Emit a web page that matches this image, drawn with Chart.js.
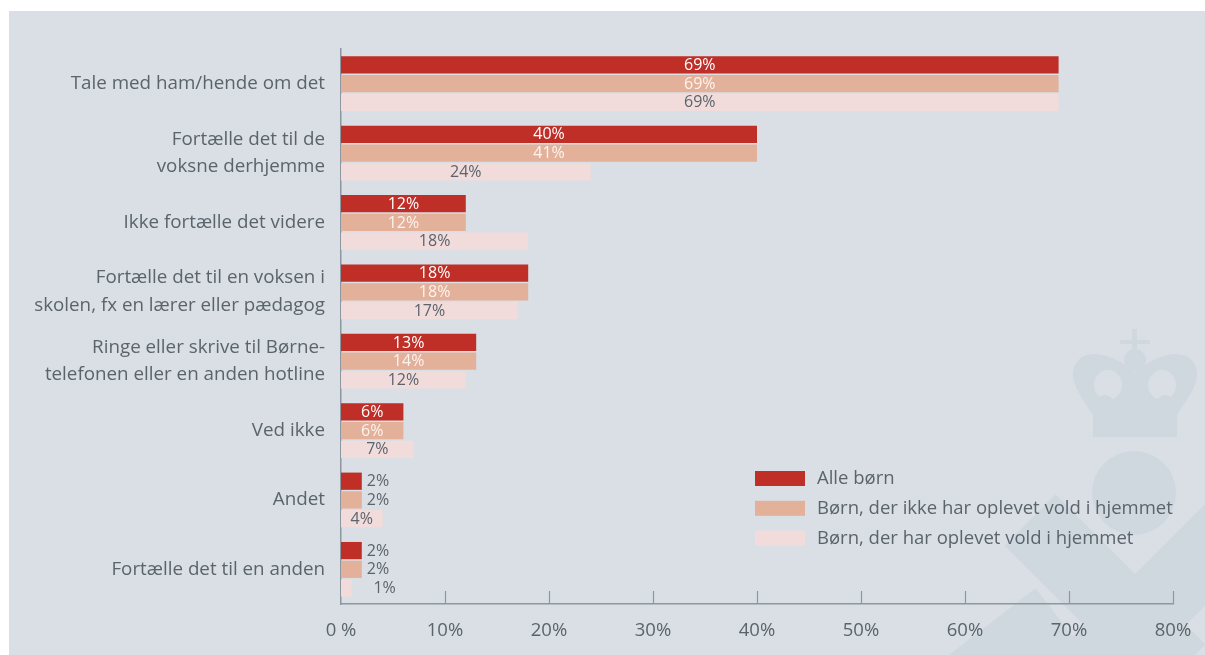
<!DOCTYPE html>
<html><head><meta charset="utf-8">
<script src="https://cdn.jsdelivr.net/npm/chart.js@4.4.0/dist/chart.umd.min.js"></script>
<style>html,body{margin:0;padding:0;background:#fff;}canvas{display:block}</style>
</head><body><canvas id="c" width="1205" height="655"></canvas>
<script>
const categories = [
  ["Tale med ham/hende om det"],
  ["Fortælle det til de", "voksne derhjemme"],
  ["Ikke fortælle det videre"],
  ["Fortælle det til en voksen i", "skolen, fx en lærer eller pædagog"],
  ["Ringe eller skrive til Børne-", "telefonen eller en anden hotline"],
  ["Ved ikke"],
  ["Andet"],
  ["Fortælle det til en anden"]
];
const seriesNames = ["Alle børn", "Børn, der ikke har oplevet vold i hjemmet", "Børn, der har oplevet vold i hjemmet"];
// bar lengths as drawn in the picture (%)
const alleBorn = [69, 40, 12, 18, 13, 6, 2, 2];
const ikkeVold = [69, 40, 12, 18, 13, 6, 2, 2];
const harVold  = [69, 24, 18, 17, 12, 7, 4, 1];
// printed value labels (%)
const alleBornLabels = [69, 40, 12, 18, 13, 6, 2, 2];
const ikkeVoldLabels = [69, 41, 12, 18, 14, 6, 2, 2];
const harVoldLabels  = [69, 24, 18, 17, 12, 7, 4, 1];
const xTickLabels = ["0 %", "10%", "20%", "30%", "40%", "50%", "60%", "70%", "80%"];

const FONT = "'Open Sans', sans-serif";
const TEXT = '#5b646c';
const BG = '#d9dfe5';
const WM = '#d0d8df';
const colors = ['#bf2e27', '#e3b09a', '#f1dbdb'];
const labelSets = [alleBornLabels, ikkeVoldLabels, harVoldLabels];

const bgPlugin = {
  id: 'bg',
  beforeDraw(chart) {
    const ctx = chart.ctx;
    ctx.save();
    ctx.fillStyle = '#fff';
    ctx.fillRect(0, 0, chart.width, chart.height);
    ctx.fillStyle = BG;
    ctx.fillRect(9, 11, chart.width - 9, chart.height - 11);
    // faint watermark
    ctx.fillStyle = WM; ctx.strokeStyle = WM;
    ctx.beginPath(); ctx.arc(1134, 493, 42, 0, Math.PI * 2); ctx.fill();
    ctx.lineCap = 'butt';
    ctx.lineWidth = 72;
    ctx.beginPath(); ctx.moveTo(1030, 520); ctx.lineTo(1180, 670); ctx.stroke();
    ctx.beginPath(); ctx.moveTo(1240, 520); ctx.lineTo(1090, 670); ctx.stroke();
    ctx.lineWidth = 80;
    ctx.beginPath(); ctx.moveTo(1060, 620); ctx.lineTo(930, 720); ctx.stroke();
    // crown
    ctx.fillRect(1093, 412, 84, 25);
    ctx.beginPath();
    ctx.moveTo(1093, 415);
    ctx.bezierCurveTo(1080, 395, 1068, 380, 1075, 365);
    ctx.bezierCurveTo(1085, 345, 1115, 355, 1135, 372);
    ctx.bezierCurveTo(1155, 355, 1185, 345, 1195, 365);
    ctx.bezierCurveTo(1202, 380, 1190, 395, 1177, 415);
    ctx.closePath(); ctx.fill();
    ctx.fillStyle = BG;
    ctx.beginPath(); ctx.ellipse(1108, 385, 14, 15, 0, 0, Math.PI * 2); ctx.fill();
    ctx.beginPath(); ctx.ellipse(1162, 385, 14, 15, 0, 0, Math.PI * 2); ctx.fill();
    ctx.fillStyle = WM;
    ctx.beginPath(); ctx.arc(1135, 360, 11, 0, Math.PI * 2); ctx.fill();
    ctx.beginPath(); ctx.arc(1135, 385, 10, 0, Math.PI * 2); ctx.fill();
    ctx.beginPath(); ctx.arc(1135, 402, 11, 0, Math.PI * 2); ctx.fill();
    ctx.beginPath(); ctx.arc(1105, 403, 8, 0, Math.PI * 2); ctx.fill();
    ctx.beginPath(); ctx.arc(1165, 403, 8, 0, Math.PI * 2); ctx.fill();
    ctx.fillRect(1132, 329, 5, 26);
    ctx.fillRect(1120, 340, 30, 4);
    ctx.restore();
  }
};

const tickPlugin = {
  id: 'innerTicks',
  afterDraw(chart) {
    const ctx = chart.ctx, x = chart.scales.x, a = chart.chartArea;
    ctx.save();
    ctx.strokeStyle = '#8d979f';
    ctx.lineWidth = 1.2;
    for (let v = 10; v <= 80; v += 10) {
      const px = Math.round(x.getPixelForValue(v)) + 0.5;
      ctx.beginPath(); ctx.moveTo(px, a.bottom - 13); ctx.lineTo(px, a.bottom); ctx.stroke();
    }
    ctx.restore();
  }
};

const labelPlugin = {
  id: 'valueLabels',
  afterDatasetsDraw(chart) {
    const ctx = chart.ctx;
    ctx.save();
    ctx.font = "16px " + FONT;
    ctx.textBaseline = 'middle';
    chart.data.datasets.forEach((ds, di) => {
      const meta = chart.getDatasetMeta(di);
      meta.data.forEach((el, i) => {
        const txt = labelSets[di][i] + '%';
        const w = ctx.measureText(txt).width;
        const left = Math.min(el.base, el.x), right = Math.max(el.base, el.x);
        const bw = right - left;
        if (w + 6 < bw) {
          ctx.textAlign = 'center';
          ctx.fillStyle = di === 2 ? TEXT : (di === 1 ? '#fdf3ee' : '#ffffff');
          ctx.fillText(txt, (left + right) / 2, el.y + 0.5);
        } else {
          ctx.textAlign = 'left';
          ctx.fillStyle = TEXT;
          ctx.fillText(txt, right + (di === 2 ? 22 : 5), el.y + 0.5);
        }
      });
    });
    ctx.restore();
  }
};

const legendPlugin = {
  id: 'customLegend',
  afterDraw(chart) {
    const ctx = chart.ctx, a = chart.chartArea;
    const x0 = a.left + 414, y0 = a.top + 422;
    ctx.save();
    ctx.font = "18.5px " + FONT;
    ctx.textBaseline = 'middle';
    ctx.textAlign = 'left';
    seriesNames.forEach((n, i) => {
      const y = y0 + i * 29.8;
      ctx.fillStyle = colors[i];
      ctx.fillRect(x0, y, 50, 15);
      ctx.fillStyle = TEXT;
      ctx.fillText(n, x0 + 62, y + 8);
    });
    ctx.restore();
  }
};

Chart.defaults.font.family = FONT;
new Chart(document.getElementById('c'), {
  type: 'bar',
  data: {
    labels: categories,
    datasets: [
      { label: seriesNames[0], data: alleBorn, backgroundColor: colors[0] },
      { label: seriesNames[1], data: ikkeVold, backgroundColor: colors[1] },
      { label: seriesNames[2], data: harVold, backgroundColor: colors[2] }
    ]
  },
  options: {
    indexAxis: 'y',
    responsive: false,
    animation: false,
    devicePixelRatio: 1,
    categoryPercentage: 0.81,
    barPercentage: 0.92,
    layout: { padding: { top: 49, right: 32, bottom: 0, left: 0 } },
    plugins: { legend: { display: false }, tooltip: { enabled: false } },
    scales: {
      x: {
        min: 0, max: 80,
        ticks: {
          stepSize: 10, maxRotation: 0, autoSkip: false,
          callback: (v, i) => xTickLabels[i],
          color: TEXT, font: { size: 18.5, family: FONT }, padding: 16
        },
        grid: { display: false, drawTicks: false },
        border: { display: true, color: '#8d979f', width: 1.5 },
        afterFit: s => { s.height = 51; s.paddingRight = 0; s.paddingLeft = 0; }
      },
      y: {
        ticks: { color: TEXT, font: { size: 18.8, family: FONT, lineHeight: 1.47 }, padding: 16, autoSkip: false },
        grid: { display: false, drawTicks: false },
        border: { display: true, color: '#8d979f', width: 1.5 },
        afterFit: s => { s.width = 341; }
      }
    }
  },
  plugins: [bgPlugin, tickPlugin, labelPlugin, legendPlugin]
});
</script>
</body></html>
